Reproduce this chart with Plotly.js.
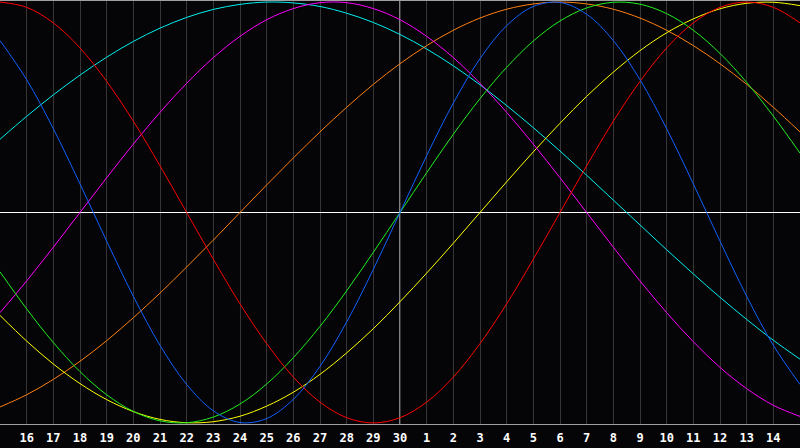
<!DOCTYPE html>
<html>
<head>
<meta charset="utf-8">
<script src="https://cdn.plot.ly/plotly-3.0.1.min.js"></script>
<style>
html,body{margin:0;padding:0;background:#050507;}
#chart{width:800px;height:448px;}
</style>
</head>
<body>
<div id="chart"></div>
<script>
// Day positions 0..30 (day 15 of previous month .. day 15 of next month)
var days = [0,1,2,3,4,5,6,7,8,9,10,11,12,13,14,15,16,17,18,19,20,21,22,23,24,25,26,27,28,29,30];
var tickPositions = [1,2,3,4,5,6,7,8,9,10,11,12,13,14,15,16,17,18,19,20,21,22,23,24,25,26,27,28,29];
var tickLabels = ['16','17','18','19','20','21','22','23','24','25','26','27','28','29','30','1','2','3','4','5','6','7','8','9','10','11','12','13','14'];

// Cycle values read at each day line (-1 .. 1)
var physical = [0.817,0.631,0.398,0.136,-0.136,-0.398,-0.631,-0.817,-0.942,-0.998,-0.979,-0.888,-0.731,-0.520,-0.270,0,0.270,0.520,0.731,0.888,0.979,0.998,0.942,0.817,0.631,0.398,0.136,-0.136,-0.398,-0.631,-0.817];
var emotional = [1,0.975,0.901,0.782,0.623,0.434,0.222,0,-0.222,-0.434,-0.623,-0.782,-0.901,-0.975,-1,-0.975,-0.901,-0.782,-0.623,-0.434,-0.222,0,0.222,0.434,0.623,0.782,0.901,0.975,1,0.975,0.901];
var intellectual = [-0.282,-0.458,-0.618,-0.756,-0.866,-0.945,-0.990,-0.999,-0.972,-0.910,-0.815,-0.690,-0.541,-0.372,-0.189,0,0.189,0.372,0.541,0.690,0.815,0.910,0.972,0.999,0.990,0.945,0.866,0.756,0.618,0.458,0.282];
var intuitive = [-0.476,-0.325,-0.165,0,0.165,0.325,0.476,0.614,0.736,0.837,0.916,0.969,0.997,0.997,0.969,0.916,0.837,0.736,0.614,0.476,0.325,0.165,0,-0.165,-0.325,-0.476,-0.614,-0.736,-0.837,-0.916,-0.969];
var aesthetic = [-0.489,-0.611,-0.720,-0.813,-0.889,-0.946,-0.983,-0.999,-0.994,-0.968,-0.920,-0.854,-0.769,-0.667,-0.552,-0.424,-0.288,-0.146,0,0.146,0.288,0.424,0.552,0.667,0.769,0.854,0.920,0.968,0.994,0.999,0.983];
var awareness = [-0.924,-0.866,-0.793,-0.707,-0.609,-0.5,-0.383,-0.259,-0.131,0,0.131,0.259,0.383,0.5,0.609,0.707,0.793,0.866,0.924,0.966,0.991,1,0.991,0.966,0.924,0.866,0.793,0.707,0.609,0.5,0.383];
var spiritual = [0.348,0.457,0.559,0.653,0.738,0.813,0.876,0.927,0.965,0.989,1.000,0.996,0.979,0.947,0.903,0.846,0.777,0.697,0.607,0.508,0.403,0.292,0.177,0.059,-0.059,-0.177,-0.292,-0.403,-0.508,-0.607,-0.697];

var seriesNames = ['Spiritual','Awareness','Aesthetic','Intuitive','Intellectual','Emotional','Physical'];
var seriesData = [spiritual, awareness, aesthetic, intuitive, intellectual, emotional, physical];
var seriesColors = ['#00f0f0','#ff8010','#ffff00','#ff00ff','#20f020','#ff0000','#1060ff'];

var traces = seriesData.map(function(vals, i){
  return {
    x: days, y: vals, type: 'scatter', mode: 'lines', name: seriesNames[i],
    line: {color: seriesColors[i], width: 1, shape: 'spline', smoothing: 1},
    hoverinfo: 'skip'
  };
});

var layout = {
  width: 800, height: 448,
  margin: {l: 0, r: 0, t: 1, b: 24, pad: 0},
  paper_bgcolor: '#050507',
  plot_bgcolor: '#050507',
  showlegend: false,
  xaxis: {
    range: [0, 30], fixedrange: true,
    tickvals: tickPositions, ticktext: tickLabels,
    showgrid: true, gridcolor: '#363636', gridwidth: 1,
    zeroline: false,
    showline: true, linecolor: '#a0a0a0', linewidth: 1, mirror: true,
    ticks: 'outside', ticklen: 3, tickcolor: 'rgba(0,0,0,0)',
    tickfont: {family: 'DejaVu Sans Mono', size: 12, color: '#ffffff', weight: 'bold'}
  },
  yaxis: {
    range: [-1.005, 1.005], fixedrange: true,
    showgrid: false, showticklabels: false, ticks: '',
    zeroline: true, zerolinecolor: '#ffffff', zerolinewidth: 1,
    showline: true, linecolor: '#a0a0a0', linewidth: 1, mirror: true
  },
  shapes: [
    {type: 'line', xref: 'x', yref: 'paper', x0: 15, x1: 15, y0: 0, y1: 1,
     line: {color: '#ffffff', width: 1}, layer: 'between'}
  ]
};

Plotly.newPlot('chart', traces, layout, {displayModeBar: false, staticPlot: true});
</script>
</body>
</html>
